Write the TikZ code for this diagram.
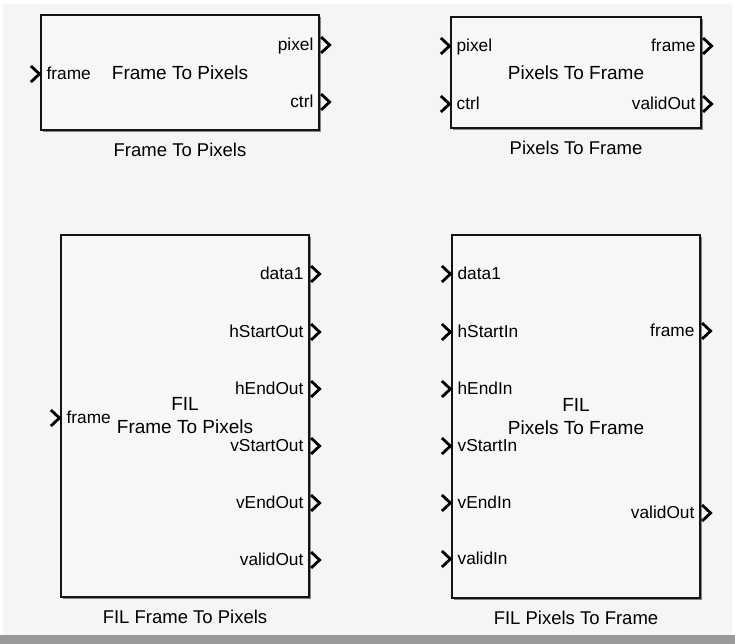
\documentclass[tikz,border=0pt]{standalone}
\usepackage{fontspec}
\setmainfont{Liberation Sans}
\usepackage{tikz}
\usetikzlibrary{positioning, calc, shadows}
\definecolor{canvas}{RGB}{245, 245, 245}
\definecolor{blockbg}{RGB}{247, 247, 247}
\definecolor{edge}{RGB}{20, 20, 20}
\definecolor{band}{RGB}{153, 153, 153}

\begin{document}
\begin{tikzpicture}[
    x=1pt, y=-1pt,
    block/.style={rectangle, draw=edge, fill=blockbg, line width=1.2pt, inner sep=0pt, align=center,
        font=\fontsize{19}{23}\selectfont,
        drop shadow={shadow xshift=1.6pt, shadow yshift=-1.6pt, fill=black, opacity=0.45}},
    inlbl/.style={anchor=west, inner sep=0pt, text height=11.5pt, text depth=0pt, font=\fontsize{17.3}{19}\selectfont, xshift=6pt},
    outlbl/.style={anchor=east, inner sep=0pt, text height=11.5pt, text depth=0pt, font=\fontsize{17.3}{19}\selectfont, xshift=-6pt},
    caption/.style={inner sep=0pt, text height=13pt, text depth=0pt, font=\fontsize{18.5}{21}\selectfont},
    chev/.style={draw=black, line width=2.8pt, miter limit=4}
]
    % Canvas
    \fill[white] (0,0) rectangle (735,644);
    \fill[canvas] (3,4) rectangle (732,635);
    \fill[band] (0,635) rectangle (735,644);
    \useasboundingbox (0,0) rectangle (735,644);

    % Blocks
    \node[block, minimum width=278pt, minimum height=115pt] (f2p) at (180,72.5) {Frame To Pixels};
    \node[block, minimum width=250pt, minimum height=111pt] (p2f) at (576,72.5) {Pixels To Frame};
    \node[block, minimum width=248pt, minimum height=362pt] (filf2p) at (185,416) {FIL\\Frame To Pixels};
    \node[block, minimum width=248pt, minimum height=363pt] (filp2f) at (576,416.5) {FIL\\Pixels To Frame};

    % Captions
    \node[caption, below=13pt of f2p] (f2pcap) {Frame To Pixels};
    \node[caption, below=13pt of p2f] (p2fcap) {Pixels To Frame};
    \node[caption, below=13pt of filf2p] (filf2pcap) {FIL Frame To Pixels};
    \node[caption, below=13pt of filp2f] (filp2fcap) {FIL Pixels To Frame};

    % Frame To Pixels ports
    \node[inlbl] (f2pframe) at (f2p.west |- 0,74) {frame};
    \node[outlbl] (f2ppixel) at (f2p.east |- 0,45) {pixel};
    \node[outlbl] (f2pctrl) at (f2p.east |- 0,102) {ctrl};

    % Pixels To Frame ports
    \node[inlbl] (p2fpixel) at (p2f.west |- 0,46) {pixel};
    \node[inlbl] (p2fctrl) at (p2f.west |- 0,104) {ctrl};
    \node[outlbl] (p2fframe) at (p2f.east |- 0,46) {frame};
    \node[outlbl] (p2fvalid) at (p2f.east |- 0,104) {validOut};

    % FIL Frame To Pixels ports
    \node[inlbl] (filf2pframe) at (filf2p.west |- 0,418) {frame};
    \node[outlbl] (filf2pdata) at (filf2p.east |- 0,274) {data1};
    \node[outlbl] (filf2phs) at (filf2p.east |- 0,332) {hStartOut};
    \node[outlbl] (filf2phe) at (filf2p.east |- 0,389) {hEndOut};
    \node[outlbl] (filf2pvs) at (filf2p.east |- 0,446) {vStartOut};
    \node[outlbl] (filf2pve) at (filf2p.east |- 0,503) {vEndOut};
    \node[outlbl] (filf2pvalid) at (filf2p.east |- 0,560) {validOut};

    % FIL Pixels To Frame ports
    \node[inlbl] (filp2fdata) at (filp2f.west |- 0,274) {data1};
    \node[inlbl] (filp2fhs) at (filp2f.west |- 0,332) {hStartIn};
    \node[inlbl] (filp2fhe) at (filp2f.west |- 0,389) {hEndIn};
    \node[inlbl] (filp2fvs) at (filp2f.west |- 0,446) {vStartIn};
    \node[inlbl] (filp2fve) at (filp2f.west |- 0,503) {vEndIn};
    \node[inlbl] (filp2fvalid) at (filp2f.west |- 0,559) {validIn};
    \node[outlbl] (filp2fframe) at (filp2f.east |- 0,331) {frame};
    \node[outlbl] (filp2fvout) at (filp2f.east |- 0,513) {validOut};

    % Input chevrons
    \foreach \p/\b in {f2pframe/f2p, p2fpixel/p2f, p2fctrl/p2f, filf2pframe/filf2p,
        filp2fdata/filp2f, filp2fhs/filp2f, filp2fhe/filp2f, filp2fvs/filp2f, filp2fve/filp2f, filp2fvalid/filp2f}
        \draw[chev] (\b.west |- \p) ++(-9.5,-8) -- ++(8.5,8) -- ++(-8.5,8);

    % Output chevrons
    \foreach \p/\b in {f2ppixel/f2p, f2pctrl/f2p, p2fframe/p2f, p2fvalid/p2f,
        filf2pdata/filf2p, filf2phs/filf2p, filf2phe/filf2p, filf2pvs/filf2p, filf2pve/filf2p, filf2pvalid/filf2p,
        filp2fframe/filp2f, filp2fvout/filp2f}
        \draw[chev] (\b.east |- \p) ++(1.5,-8) -- ++(8.5,8) -- ++(-8.5,8);
\end{tikzpicture}
\end{document}
